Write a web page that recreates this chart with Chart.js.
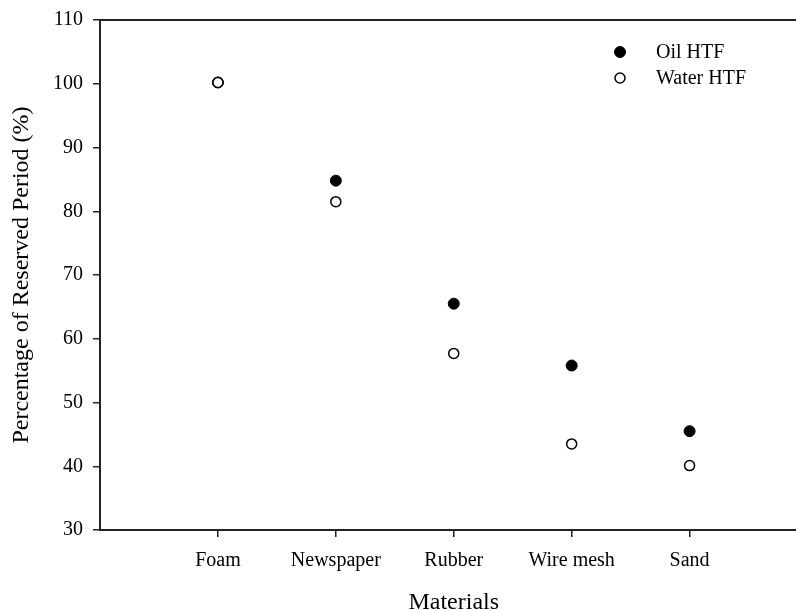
<!DOCTYPE html>
<html>
<head>
<meta charset="utf-8">
<script src="https://cdn.jsdelivr.net/npm/chart.js@4"></script>
<style>
  html, body { margin: 0; padding: 0; background: #fff; overflow: hidden; }
  #wrap { width: 814px; height: 611px; position: relative; }
</style>
</head>
<body>
<div id="wrap"><canvas id="chart"></canvas></div>
<script>
/* ========== Data ========== */
const materials = ['Foam', 'Newspaper', 'Rubber', 'Wire mesh', 'Sand'];
const oilHTF   = [100.2, 84.8, 65.5, 55.8, 45.5];
const waterHTF = [100.2, 81.5, 57.7, 43.5, 40.1];
const yTicks   = [30, 40, 50, 60, 70, 80, 90, 100, 110];

const serif = "'Liberation Serif', 'Times New Roman', serif";
const toPoints = vals => vals.map((v, i) => ({ x: i + 1, y: v }));

/* ========== Frame + inside legend ========== */
const framePlugin = {
  id: 'frame',
  afterDraw(chart) {
    const { ctx, chartArea: a } = chart;
    ctx.save();
    ctx.strokeStyle = '#222';
    ctx.lineWidth = 2;
    ctx.beginPath();
    ctx.moveTo(a.left, a.top);
    ctx.lineTo(a.right, a.top);
    ctx.lineTo(a.right, a.bottom);
    ctx.stroke();

    // legend, top right inside the plot
    const rows = [chart.data.datasets[1], chart.data.datasets[0]];
    rows.forEach((ds, i) => {
      const y = 52 + i * 26;
      ctx.beginPath();
      ctx.arc(620, y, ds.pointRadius, 0, Math.PI * 2);
      ctx.fillStyle = ds.pointBackgroundColor;
      ctx.fill();
      ctx.lineWidth = ds.pointBorderWidth;
      ctx.strokeStyle = '#000';
      ctx.stroke();
      ctx.fillStyle = '#000';
      ctx.font = '20px ' + serif;
      ctx.textBaseline = 'middle';
      ctx.fillText(ds.label, 656, y + 1);
    });
    ctx.restore();
  }
};

/* ========== Chart ========== */
new Chart(document.getElementById('chart'), {
  type: 'scatter',
  data: {
    datasets: [
      {
        label: 'Water HTF',
        data: toPoints(waterHTF),
        pointRadius: 5,
        pointBackgroundColor: '#fff',
        pointBorderColor: '#000',
        pointBorderWidth: 1.5,
        order: 0
      },
      {
        label: 'Oil HTF',
        data: toPoints(oilHTF),
        pointRadius: 5.5,
        pointBackgroundColor: '#000',
        pointBorderColor: '#000',
        pointBorderWidth: 1,
        order: 1
      }
    ]
  },
  options: {
    responsive: true,
    maintainAspectRatio: false,
    animation: false,
    layout: { padding: { top: 20, right: 3, left: 0, bottom: 0 } },
    plugins: { legend: { display: false }, tooltip: { enabled: false } },
    scales: {
      x: {
        type: 'linear',
        min: 0,
        max: materials.length + 1,
        afterBuildTicks: s => { s.ticks = materials.map((m, i) => ({ value: i + 1 })); },
        afterFit: s => { s.height = 81; },
        ticks: {
          color: '#000',
          font: { family: serif, size: 20 },
          padding: 12,
          maxRotation: 0,
          autoSkip: false,
          callback: v => materials[v - 1] ?? ''
        },
        grid: { drawOnChartArea: false, drawTicks: true, tickLength: 7, color: '#222', lineWidth: 1.5 },
        border: { display: true, color: '#222', width: 2 },
        title: {
          display: true,
          text: 'Materials',
          color: '#000',
          font: { family: serif, size: 24, lineHeight: 1 },
          padding: { top: 0, bottom: -4 }
        }
      },
      y: {
        min: 30,
        max: 110,
        afterBuildTicks: s => { s.ticks = yTicks.map(v => ({ value: v })); },
        afterFit: s => { s.width = 100; },
        ticks: {
          color: '#000',
          font: { family: serif, size: 20, lineHeight: 1 },
          padding: 10
        },
        grid: { drawOnChartArea: false, drawTicks: true, tickLength: 7, color: '#222', lineWidth: 1.5 },
        border: { display: true, color: '#222', width: 2 },
        title: {
          display: true,
          text: 'Percentage of Reserved Period (%)',
          color: '#000',
          font: { family: serif, size: 24, lineHeight: 1 },
          padding: { top: 10, bottom: 0 }
        }
      }
    }
  },
  plugins: [framePlugin]
});
</script>
</body>
</html>
